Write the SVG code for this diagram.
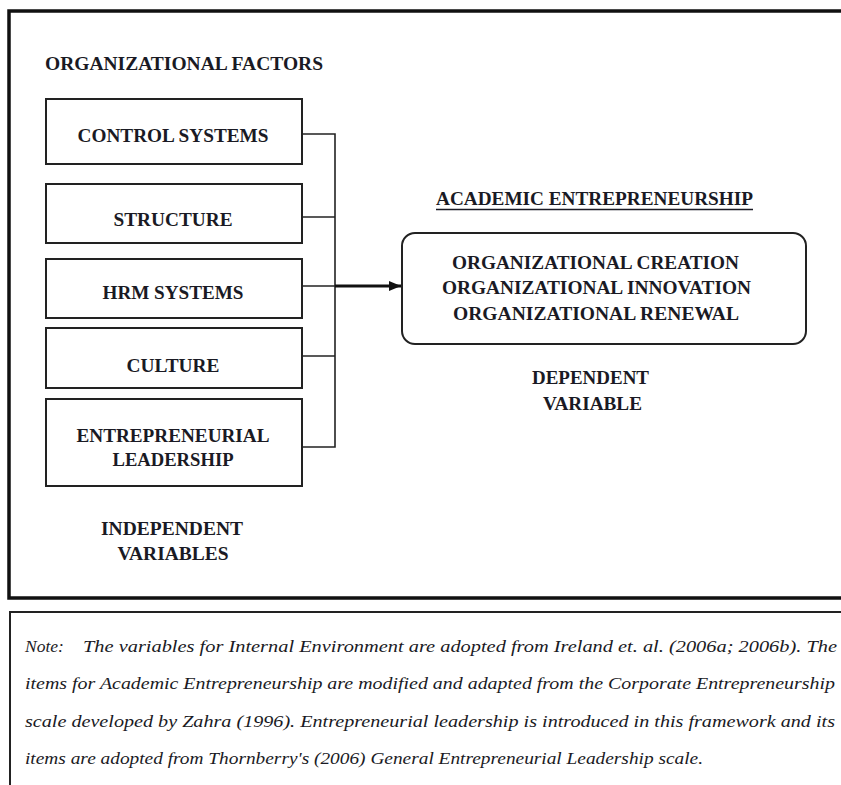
<svg xmlns="http://www.w3.org/2000/svg" width="841" height="785" viewBox="0 0 841 785">
  <defs>
    <style>
      .lbl { font-family: "Liberation Serif", "Times New Roman", serif; font-weight: bold; font-size: 19.5px; fill: #1a1a24; text-anchor: middle; }
      .note { font-family: "Liberation Serif", "Times New Roman", serif; font-style: italic; font-size: 17.5px; fill: #1a1a24; }
      .box { fill: #ffffff; stroke: #222222; stroke-width: 2; }
      .conn { fill: none; stroke: #222222; stroke-width: 1.6; }
      .frame { fill: none; stroke: #111111; stroke-width: 3.5; }
    </style>
    <marker id="arrow" viewBox="0 0 12 10" refX="12" refY="5" markerWidth="12" markerHeight="10" markerUnits="userSpaceOnUse" orient="auto">
      <path d="M0,0 L12,5 L0,10 Z" fill="#111111"/>
    </marker>
  </defs>
  <rect x="0" y="0" width="841" height="785" fill="#ffffff"/>

  <g id="frame">
    <path class="frame" d="M845,11 L9,11 L9,598 L845,598"/>
  </g>

  <g id="title-factors">
    <text class="lbl" x="184" y="70" textLength="278" lengthAdjust="spacingAndGlyphs">ORGANIZATIONAL FACTORS</text>
  </g>

  <g id="node-control">
    <rect class="box" x="46" y="99" width="256" height="65"/>
    <text class="lbl" x="173" y="142" textLength="191" lengthAdjust="spacingAndGlyphs">CONTROL SYSTEMS</text>
  </g>
  <g id="node-structure">
    <rect class="box" x="46" y="184" width="256" height="59"/>
    <text class="lbl" x="173" y="226" textLength="119" lengthAdjust="spacingAndGlyphs">STRUCTURE</text>
  </g>
  <g id="node-hrm">
    <rect class="box" x="46" y="259" width="256" height="59"/>
    <text class="lbl" x="173" y="299" textLength="141" lengthAdjust="spacingAndGlyphs">HRM SYSTEMS</text>
  </g>
  <g id="node-culture">
    <rect class="box" x="46" y="328" width="256" height="60"/>
    <text class="lbl" x="173" y="372" textLength="93" lengthAdjust="spacingAndGlyphs">CULTURE</text>
  </g>
  <g id="node-leadership">
    <rect class="box" x="46" y="399" width="256" height="87"/>
    <text class="lbl" x="173" y="442" textLength="193" lengthAdjust="spacingAndGlyphs">ENTREPRENEURIAL</text>
    <text class="lbl" x="173" y="466" textLength="121" lengthAdjust="spacingAndGlyphs">LEADERSHIP</text>
  </g>

  <g id="label-independent">
    <text class="lbl" x="172" y="535" textLength="142" lengthAdjust="spacingAndGlyphs">INDEPENDENT</text>
    <text class="lbl" x="173" y="560" textLength="111" lengthAdjust="spacingAndGlyphs">VARIABLES</text>
  </g>

  <g id="connectors">
    <path class="conn" d="M302,134 L335,134 L335,447 L302,447"/>
    <path class="conn" d="M302,217 L335,217"/>
    <path class="conn" d="M302,286 L335,286"/>
    <path class="conn" d="M302,356 L335,356"/>
    <path d="M335,286 L401,286" fill="none" stroke="#111111" stroke-width="3" marker-end="url(#arrow)"/>
  </g>

  <g id="title-academic">
    <text class="lbl" x="594.5" y="205" textLength="317" lengthAdjust="spacingAndGlyphs">ACADEMIC ENTREPRENEURSHIP</text>
    <line x1="436" y1="209.5" x2="753" y2="209.5" stroke="#1a1a24" stroke-width="1.6"/>
  </g>

  <g id="node-academic">
    <rect class="box" x="402" y="233" width="404" height="111" rx="13" ry="13"/>
    <text class="lbl" x="595.5" y="269" textLength="287" lengthAdjust="spacingAndGlyphs">ORGANIZATIONAL CREATION</text>
    <text class="lbl" x="596.5" y="294" textLength="309" lengthAdjust="spacingAndGlyphs">ORGANIZATIONAL INNOVATION</text>
    <text class="lbl" x="596" y="320" textLength="286" lengthAdjust="spacingAndGlyphs">ORGANIZATIONAL RENEWAL</text>
  </g>

  <g id="label-dependent">
    <text class="lbl" x="590.5" y="384" textLength="117" lengthAdjust="spacingAndGlyphs">DEPENDENT</text>
    <text class="lbl" x="592.5" y="410" textLength="99" lengthAdjust="spacingAndGlyphs">VARIABLE</text>
  </g>

  <g id="note">
    <path d="M845,612 L10,612 L10,790" fill="none" stroke="#222222" stroke-width="2"/>
    <text class="note" x="25" y="652">Note:</text>
    <text class="note" x="83" y="652" textLength="754" lengthAdjust="spacingAndGlyphs">The variables for Internal Environment are adopted from Ireland et. al. (2006a; 2006b). The</text>
    <text class="note" x="25" y="689" textLength="810" lengthAdjust="spacingAndGlyphs">items for Academic Entrepreneurship are modified and adapted from the Corporate Entrepreneurship</text>
    <text class="note" x="25" y="727" textLength="810" lengthAdjust="spacingAndGlyphs">scale developed by Zahra (1996). Entrepreneurial leadership is introduced in this framework and its</text>
    <text class="note" x="25" y="764" textLength="678" lengthAdjust="spacingAndGlyphs">items are adopted from Thornberry's (2006) General Entrepreneurial Leadership scale.</text>
  </g>
</svg>
